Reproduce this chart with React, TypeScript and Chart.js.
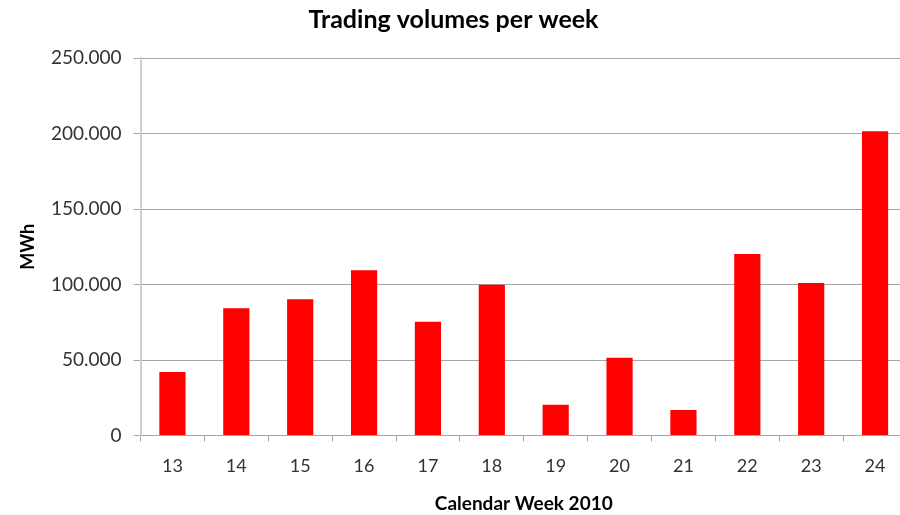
import { useEffect, useRef } from "react";
import { Chart, registerables } from "chart.js";

Chart.register(...registerables);

const weeks = ["13", "14", "15", "16", "17", "18", "19", "20", "21", "22", "23", "24"];
const volumes = [42100, 84200, 90200, 109400, 75400, 99900, 20400, 51500, 16900, 120200, 101000, 201500];
const yMin = 0;
const yMax = 250000;
const yStep = 50000;

const FONT = "Lato, 'Open Sans', sans-serif";

function fmt(v: number): string {
  return Math.round(v).toString().replace(/\B(?=(\d{3})+(?!\d))/g, ".");
}

export default function App() {
  const ref = useRef<HTMLCanvasElement>(null);
  useEffect(() => {
    const chart = new Chart(ref.current!, {
      type: "bar",
      data: {
        labels: weeks,
        datasets: [
          {
            data: volumes,
            backgroundColor: "#ff0000",
            borderWidth: 0,
            barPercentage: 0.41,
            categoryPercentage: 1,
          },
        ],
      },
      options: {
        animation: false,
        responsive: false,
        devicePixelRatio: 1,
        layout: { padding: { left: 0, right: 1, top: 0, bottom: 0 } },
        plugins: {
          legend: { display: false },
          tooltip: { enabled: false },
          title: {
            display: true,
            text: "Trading volumes per week",
            color: "#000000",
            font: { family: FONT, size: 25, weight: "bold", lineHeight: 1.2 },
            padding: { top: 5, bottom: 23 },
          },
        },
        scales: {
          x: {
            offset: true,
            grid: {
              display: true,
              drawOnChartArea: false,
              drawTicks: true,
              tickLength: 6,
              color: "#a6a6a6",
              offset: true,
            },
            border: { display: true, color: "#a6a6a6", width: 1 },
            ticks: {
              color: "#333333",
              font: { family: FONT, size: 18 },
              padding: 14,
              maxRotation: 0,
            },
            title: {
              display: true,
              text: "Calendar Week 2010",
              color: "#000000",
              font: { family: FONT, size: 19, weight: "bold", lineHeight: 1.2 },
              padding: { top: 0, bottom: 0 },
            },
            afterFit: (s: any) => {
              s.height = 79.5;
            },
          },
          y: {
            min: yMin,
            max: yMax,
            grid: {
              color: "#a6a6a6",
              lineWidth: 1,
              tickLength: 7,
            },
            border: { display: true, color: "#cfcfcf", width: 2 },
            ticks: {
              stepSize: yStep,
              color: "#333333",
              font: { family: FONT, size: 19 },
              padding: 12,
              callback: (v: any) => fmt(Number(v)),
            },
            title: {
              display: true,
              text: "MWh",
              color: "#000000",
              font: { family: FONT, size: 18, weight: "bold", lineHeight: 1.2 },
              padding: { top: 17.7, bottom: 0 },
            },
            afterFit: (s: any) => {
              s.width = 140.5;
            },
          },
        },
      },
    } as any);
    return () => chart.destroy();
  }, []);
  return (
    <div
      style={{
        position: "fixed",
        left: 0,
        top: 0,
        width: 900,
        height: 515,
        overflow: "hidden",
        background: "#ffffff",
      }}
    >
      <canvas ref={ref} width={908} height={515} style={{ display: "block" }} />
    </div>
  );
}
